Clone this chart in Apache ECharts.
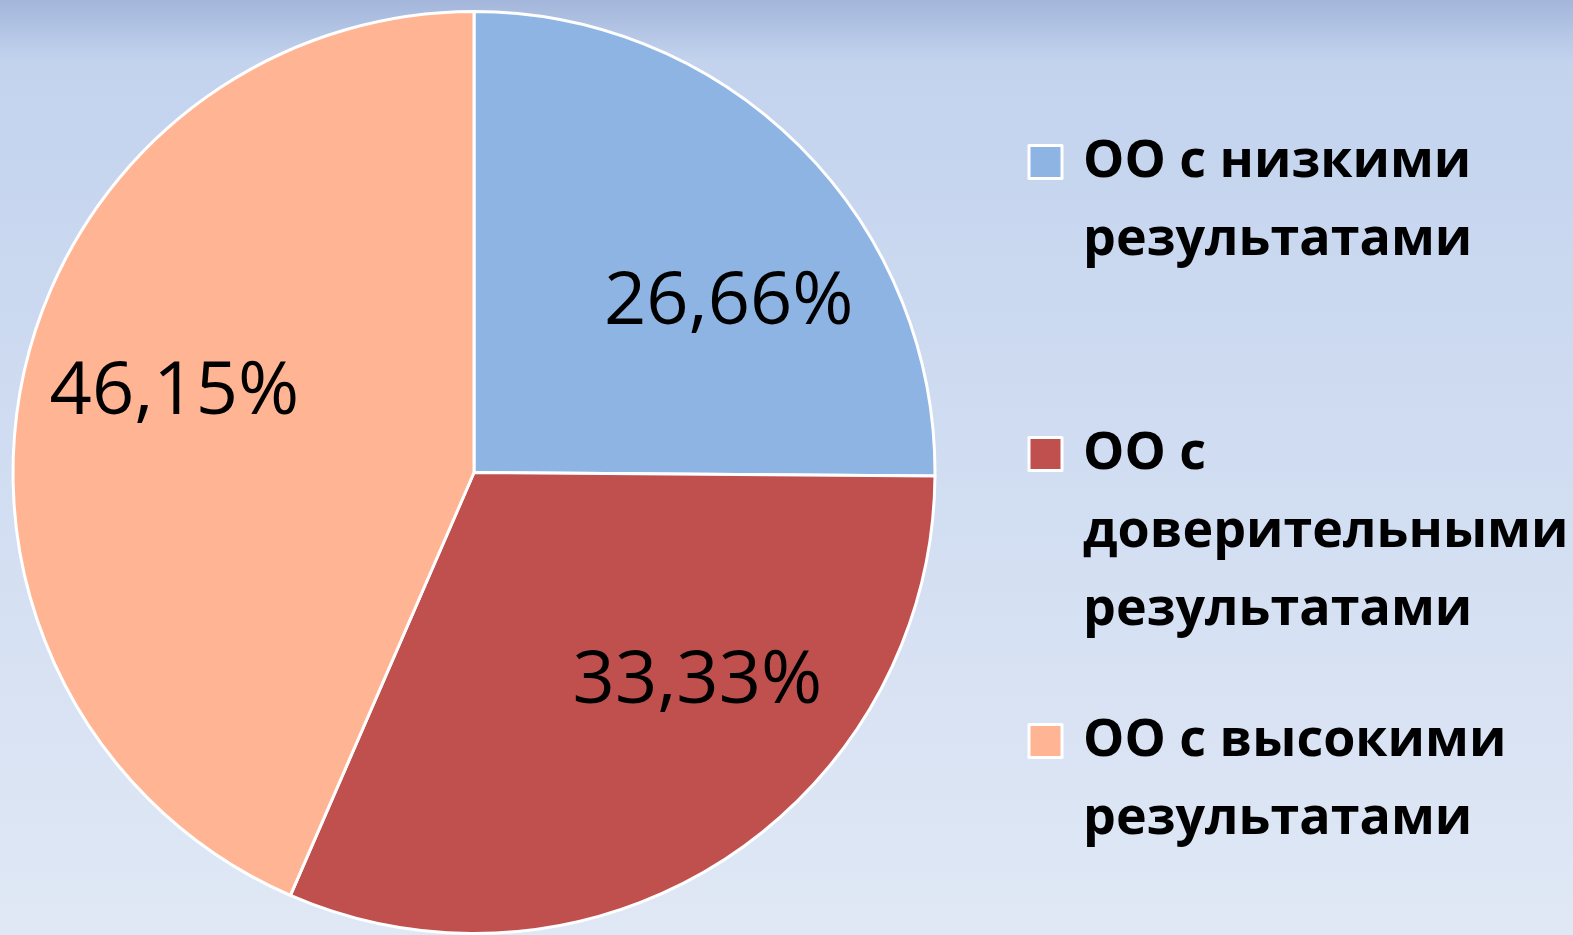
<!DOCTYPE html>
<html>
<head>
<meta charset="utf-8">
<script src="https://cdn.jsdelivr.net/npm/echarts@6/dist/echarts.min.js"></script>
<style>
  html, body { margin: 0; padding: 0; }
  #chart { width: 1573px; height: 935px; }
</style>
</head>
<body>
<div id="chart"></div>
<script>
// доли ОО по результатам
const categories = [
  'ОО с низкими\nрезультатами',
  'ОО с\nдоверительными\nрезультатами',
  'ОО с высокими\nрезультатами'
];
const values = [26.66, 33.33, 46.15];
const colors = ['#8EB4E3', '#C0504D', '#FFB594'];

// сдвиг подписей от стандартного положения inside
const labelShift = [[89, -5], [96, 14], [-71, -32]];
const legendTops = [45, 259, 624];
const lineH = 78;

const chart = echarts.init(document.getElementById('chart'));

const legends = categories.map((name, i) => {
  const lines = name.split('\n').length;
  return {
    data: [name],
    orient: 'vertical',
    left: 1027.5,
    top: legendTops[i],
    padding: 0,
    icon: 'rect',
    itemWidth: 33,
    itemHeight: 33,
    itemStyle: { borderColor: '#fff', borderWidth: 3 },
    selectedMode: false,
    // пустые строки сверху, чтобы маркер стоял напротив первой строки
    formatter: n => '\n'.repeat(lines - 1) + n,
    textStyle: {
      color: '#000',
      fontSize: 52,
      fontWeight: 'bold',
      fontFamily: 'Open Sans',
      lineHeight: lineH,
      padding: [0, 0, 0, 16]
    }
  };
});

const option = {
  animation: false,
  backgroundColor: {
    type: 'linear', x: 0, y: 0, x2: 0, y2: 1,
    colorStops: [
      { offset: 0, color: '#a3b6db' },
      { offset: 0.065, color: '#c3d3ee' },
      { offset: 1, color: '#e0e8f5' }
    ]
  },
  legend: legends,
  series: [
    {
      type: 'pie',
      center: [474, 472.5],
      radius: [0, 461],
      startAngle: 90,
      clockwise: true,
      silent: true,
      itemStyle: { borderColor: '#fff', borderWidth: 3 },
      label: {
        show: true,
        position: 'inside',
        color: '#000',
        fontSize: 74,
        fontFamily: 'Open Sans',
        formatter: p => p.value.toFixed(2).replace('.', ',') + '%'
      },
      labelLine: { show: false },
      labelLayout: p => ({ dx: labelShift[p.dataIndex][0], dy: labelShift[p.dataIndex][1] }),
      data: categories.map((c, i) => ({ name: c, value: values[i], itemStyle: { color: colors[i] } }))
    }
  ]
};

chart.setOption(option);
</script>
</body>
</html>
